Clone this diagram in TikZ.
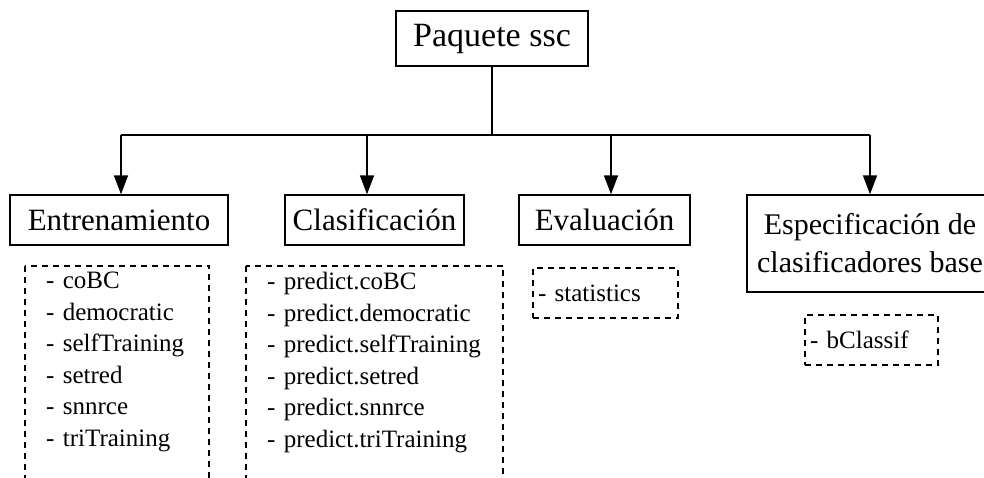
\documentclass[tikz,border=0pt]{standalone}
\usepackage{fontspec}
\setmainfont{Liberation Serif}
\usetikzlibrary{arrows.meta}

\begin{document}
\begin{tikzpicture}[x=1pt,y=-1pt,
  caja/.style={draw, line width=1.4pt, inner sep=0pt, align=center, font=\fontsize{31}{38}\selectfont},
  lista/.style={inner xsep=21pt, inner ysep=6pt, anchor=north west, align=left,
    font=\fontsize{25}{31.5}\selectfont, execute at begin node={\hyphenpenalty=10000}},
  punteado/.style={draw, line width=1.9pt, dash pattern=on 6pt off 5pt},
  flecha/.style={line width=1.6pt, -{Triangle[length=19pt,width=14pt]}}]

\clip (0,0) rectangle (984,477);
\coordinate (fondo) at (0,500);

%%%%%%%%%%%%%%%%%%%%%%%%%%%% raiz %%%%%%%%%%%%%%%%%%%%
\node[caja, minimum width=192pt, minimum height=55pt, font=\fontsize{34}{40}\selectfont] (paquete) at (492,38.5) {Paquete ssc};

\coordinate (b1) at (121,135); \coordinate (b2) at (367,135);
\coordinate (b3) at (611,135); \coordinate (b4) at (870,135);

\draw[line width=1.6pt] (paquete.south) -- (paquete.south |- b1);
\draw[line width=1.6pt] (b1) -- (b4);

%%%%%%%%%%%%%%%%%%%%%%%%%%%% modulos %%%%%%%%%%%%%%%%%%%%
\node[caja, minimum width=218pt, minimum height=50pt] (entrena) at (119,220) {Entrenamiento};
\node[caja, minimum width=179pt, minimum height=50pt] (clasif) at (374.5,220) {Clasificación};
\node[caja, minimum width=171pt, minimum height=50pt] (evalua) at (604.5,220) {Evaluación};
\node[caja, minimum width=246pt, minimum height=97pt, font=\fontsize{30}{38}\selectfont] (especif) at (870,243.5) {Especificación de\\clasificadores base};

\foreach \b/\n in {b1/entrena, b2/clasif, b3/evalua, b4/especif}
  \draw[flecha] (\b) -- (\b |- \n.north);

%%%%%%%%%%%%%%%%%%%%%%%%%%%% funciones %%%%%%%%%%%%%%%%%%%%
\node[lista, text width=142pt] (entlista) at (25,266)
  {-~coBC\\-~democratic\\-~selfTraining\\-~setred\\-~snnrce\\-~triTraining};
\draw[punteado] (entlista.north west) rectangle (entlista.east |- fondo);

\node[lista, text width=215pt] (claslista) at (246,266)
  {-~predict.coBC\\-~predict.democratic\\-~predict.selfTraining\\-~predict.setred\\-~predict.snnrce\\-~predict.triTraining};
\draw[punteado] (claslista.north west) rectangle (claslista.east |- fondo);

\node[punteado, inner xsep=5pt, inner ysep=0pt, text width=135pt, minimum height=50pt, align=left,
  font=\fontsize{25}{31.5}\selectfont] (evallista) at (605.5,293) {-~statistics};
\node[punteado, inner xsep=5pt, inner ysep=0pt, text width=123pt, minimum height=50pt, align=left,
  font=\fontsize{25}{31.5}\selectfont] (esplista) at (871.5,340) {-~bClassif};

\end{tikzpicture}
\end{document}
